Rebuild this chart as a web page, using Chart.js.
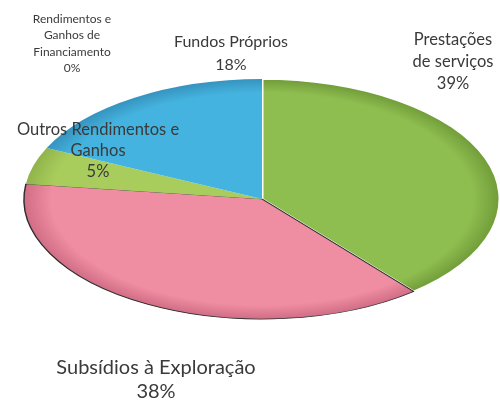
<!DOCTYPE html>
<html>
<head>
<meta charset="utf-8">
<script src="https://cdn.jsdelivr.net/npm/chart.js@4/dist/chart.umd.min.js"></script>
<style>
  html,body{margin:0;padding:0;background:#fff;}
  #wrap{width:500px;height:400px;position:relative;}
</style>
</head>
<body>
<div id="wrap"><canvas id="c" width="500" height="400"></canvas></div>
<script>
// ---- data ----
const categories = ['Prestações de serviços','Subsídios à Exploração','Outros Rendimentos e Ganhos','Fundos Próprios','Rendimentos e Ganhos de Financiamento'];
const values = [39, 38, 5, 18, 0];
const labelLines = [
  ['Prestações','de serviços'],
  ['Subsídios à Exploração'],
  ['Outros Rendimentos e','Ganhos'],
  ['Fundos Próprios'],
  ['Rendimentos e','Ganhos de','Financiamento']
];

// ---- styling / layout ----
const colors = ['#8fbe50','#ef8da2','#a9cd5c','#45b3df','#8064a2'];
const shade  = ['#6f9a38','#cf6c84','#8fb34a','#3592bd','#5a4580'];
const borderColors = ['#ffffff','#2a2a2a','#2a2a2a','#3a9fd0','#ffffff'];
const borderWidths = [2.5, 1.2, 0, 0, 0];
const ELLIPSE = {x: 262, y: 199, rx: 238, ry: 120};
const labelLayout = [
  {x: 453, y: 40, lh: 22, size: 16.5},
  {x: 156, y: 368, lh: 24, size: 20},
  {x: 98,  y: 130, lh: 21, size: 16.5},
  {x: 231, y: 42,  lh: 23, size: 16},
  {x: 72,  y: 19,  lh: 16.5, size: 12}
];
const FONT = 'Lato, "Open Sans", sans-serif';

function grad(ctx){
  const chart = ctx.chart, a = chart.chartArea;
  if(!a) return colors[ctx.dataIndex];
  const cx = (a.left + a.right)/2, cy = (a.top + a.bottom)/2;
  const r = Math.min(a.right - a.left, a.bottom - a.top)/2;
  const g = chart.ctx.createRadialGradient(cx, cy, 0, cx, cy, r);
  const i = ctx.dataIndex;
  g.addColorStop(0, colors[i]);
  g.addColorStop(0.88, colors[i]);
  g.addColorStop(1, shade[i]);
  return g;
}

const ellipsePlugin = {
  id: 'ellipse',
  beforeDatasetsDraw(chart){
    const a = chart.getDatasetMeta(0).data[0];
    const ctx = chart.ctx;
    ctx.save();
    ctx.translate(ELLIPSE.x, ELLIPSE.y);
    ctx.scale(ELLIPSE.rx / a.outerRadius, ELLIPSE.ry / a.outerRadius);
    ctx.translate(-a.x, -a.y);
  },
  afterDatasetsDraw(chart){
    chart.ctx.restore();
  }
};

const labelPlugin = {
  id: 'labels',
  afterDraw(chart){
    const ctx = chart.ctx;
    ctx.save();
    ctx.fillStyle = '#3a3a3a';
    ctx.textAlign = 'center';
    ctx.textBaseline = 'middle';
    categories.forEach((c, i) => {
      const L = labelLayout[i];
      ctx.font = L.size + 'px ' + FONT;
      const lines = labelLines[i].concat([values[i] + '%']);
      lines.forEach((t, k) => ctx.fillText(t, L.x, L.y + k * L.lh));
    });
    ctx.restore();
  }
};

new Chart(document.getElementById('c'), {
  type: 'pie',
  data: {
    labels: categories,
    datasets: [{
      data: values,
      backgroundColor: grad,
      borderColor: borderColors,
      borderWidth: borderWidths,
      clip: false
    }]
  },
  options: {
    responsive: false,
    animation: false,
    events: [],
    layout: {padding: 0},
    plugins: {legend: {display: false}, tooltip: {enabled: false}}
  },
  plugins: [ellipsePlugin, labelPlugin]
});
</script>
</body>
</html>
